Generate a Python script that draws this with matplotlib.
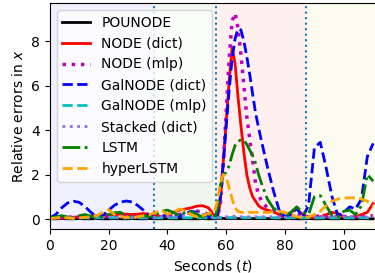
import matplotlib
matplotlib.use('Agg')
import matplotlib.pyplot as plt

# sample times (seconds)
t = [0, 2, 4, 6, 8, 10, 12, 14, 16, 18, 20, 22, 24, 26, 28, 30, 32, 34, 36, 38,
     40, 42, 44, 46, 48, 50, 52, 54, 56,
     57, 58, 59, 60, 61, 62, 63, 64, 65, 66, 67, 68, 69, 70, 71, 72,
     74, 76, 78, 80, 82, 84, 86, 88, 90, 92, 94, 96, 98, 100, 102, 104, 106, 108, 110]

pounode = [0.01, 0.01, 0.02, 0.01, 0.01, 0.02, 0.01, 0.01, 0.02, 0.01, 0.01, 0.02, 0.01, 0.01, 0.02, 0.01,
           0.01, 0.02, 0.01, 0.01, 0.02, 0.01, 0.01, 0.02, 0.01, 0.01, 0.02, 0.01, 0.01,
           0.02, 0.03, 0.03, 0.02, 0.02, 0.03, 0.03, 0.02, 0.02, 0.02, 0.02, 0.02, 0.02, 0.02, 0.02, 0.02,
           0.02, 0.02, 0.01, 0.01, 0.02, 0.01, 0.01, 0.02, 0.01, 0.01, 0.02, 0.01, 0.01, 0.02, 0.01,
           0.01, 0.02, 0.01, 0.01]
node_dict = [0.02, 0.03, 0.05, 0.06, 0.08, 0.1, 0.12, 0.13, 0.15, 0.17, 0.18, 0.2, 0.22, 0.22, 0.2, 0.22,
             0.25, 0.2, 0.15, 0.12, 0.2, 0.3, 0.4, 0.45, 0.5, 0.58, 0.6, 0.5, 0.15,
             0.05, 0.8, 2.6, 4.4, 6.2, 7.7, 7.0, 5.5, 4.2, 3.0, 2.0, 1.4, 1.0, 0.8, 0.6, 0.5,
             0.4, 0.33, 0.2, 0.1, 0.3, 0.45, 0.2, 0.1, 0.05, 0.1, 0.2, 0.3, 0.25, 0.1, 0.05,
             0.1, 0.2, 0.3, 0.7]
node_mlp = [0.03, 0.05, 0.06, 0.08, 0.1, 0.08, 0.06, 0.08, 0.1, 0.12, 0.1, 0.08, 0.1, 0.12, 0.1, 0.08,
            0.1, 0.12, 0.1, 0.08, 0.1, 0.15, 0.2, 0.25, 0.3, 0.35, 0.32, 0.2, 0.08,
            0.05, 0.7, 2.5, 4.8, 7.2, 8.9, 9.25, 8.6, 7.4, 6.0, 4.6, 3.6, 2.6, 1.6, 1.1, 0.8,
            0.5, 0.35, 0.2, 0.15, 0.2, 0.25, 0.15, 0.1, 0.1, 0.15, 0.1, 0.08, 0.1, 0.12, 0.1,
            0.08, 0.1, 0.12, 0.15]
galnode_dict = [0.05, 0.2, 0.5, 0.72, 0.8, 0.75, 0.55, 0.3, 0.08, 0.15, 0.4, 0.62, 0.76, 0.81, 0.77, 0.6,
                0.38, 0.15, 0.05, 0.1, 0.2, 0.15, 0.1, 0.25, 0.35, 0.3, 0.2, 0.1, 0.05,
                0.2, 1.0, 2.5, 4.2, 5.8, 7.2, 8.1, 8.55, 8.5, 8.0, 7.3, 6.5, 5.6, 4.75, 4.1, 3.5,
                2.35, 1.3, 0.4, 0.1, 0.2, 0.48, 0.1, 0.6, 3.2, 3.45, 2.3, 1.0, 0.15, 0.3, 0.55,
                0.45, 0.9, 2.8, 3.4]
galnode_mlp = [0.05, 0.05, 0.06, 0.05, 0.05, 0.06, 0.05, 0.05, 0.06, 0.05, 0.05, 0.06, 0.05, 0.05, 0.06, 0.05,
               0.05, 0.06, 0.05, 0.05, 0.06, 0.05, 0.05, 0.06, 0.05, 0.05, 0.06, 0.05, 0.05,
               0.06, 0.07, 0.07, 0.06, 0.06, 0.07, 0.07, 0.06, 0.06, 0.06, 0.06, 0.06, 0.06, 0.06, 0.06, 0.06,
               0.06, 0.06, 0.05, 0.05, 0.06, 0.05, 0.05, 0.06, 0.05, 0.05, 0.06, 0.05, 0.05, 0.06, 0.05,
               0.05, 0.06, 0.05, 0.05]
stacked_dict = [0.03, 0.05, 0.08, 0.06, 0.04, 0.06, 0.08, 0.06, 0.04, 0.06, 0.1, 0.08, 0.06, 0.05, 0.06, 0.08,
                0.06, 0.05, 0.08, 0.12, 0.1, 0.08, 0.12, 0.18, 0.22, 0.25, 0.2, 0.12, 0.06,
                0.05, 0.06, 0.08, 0.1, 0.1, 0.12, 0.12, 0.1, 0.1, 0.1, 0.1, 0.1, 0.1, 0.1, 0.1, 0.1,
                0.1, 0.1, 0.08, 0.08, 0.1, 0.12, 0.1, 0.08, 0.1, 0.12, 0.1, 0.08, 0.08, 0.1, 0.12,
                0.1, 0.08, 0.1, 0.12]
lstm = [0.05, 0.1, 0.15, 0.1, 0.05, 0.15, 0.2, 0.12, 0.05, 0.1, 0.2, 0.28, 0.3, 0.15, 0.05, 0.1,
        0.15, 0.1, 0.2, 0.35, 0.4, 0.3, 0.15, 0.3, 0.35, 0.2, 0.1, 0.25, 0.05,
        0.4, 1.5, 2.0, 2.1, 2.4, 2.9, 3.3, 3.5, 3.55, 3.55, 3.35, 3.1, 2.85, 2.5, 2.0, 1.6,
        0.9, 0.5, 0.3, 0.15, 0.3, 0.55, 0.3, 0.2, 1.0, 1.05, 0.6, 0.15, 0.1, 0.35, 0.4,
        0.2, 0.6, 2.0, 1.7]
hyperlstm = [0.02, 0.05, 0.08, 0.05, 0.03, 0.05, 0.08, 0.1, 0.15, 0.3, 0.42, 0.2, 0.1, 0.08, 0.05, 0.1,
             0.15, 0.2, 0.3, 0.4, 0.2, 0.3, 0.45, 0.4, 0.2, 0.1, 0.15, 0.25, 0.3,
             0.8, 1.6, 2.0, 1.9, 1.4, 0.9, 0.5, 0.35, 0.3, 0.3, 0.3, 0.3, 0.3, 0.3, 0.3, 0.3,
             0.3, 0.32, 0.35, 0.3, 0.2, 0.1, 0.05, 0.1, 0.2, 0.35, 0.6, 0.8, 0.9, 0.95, 0.95,
             0.95, 0.9, 0.8, 0.6]

# phase boundaries
bounds = [0, 35.5, 56.5, 87, 111]
shade = ['blue', 'green', 'red', 'y']

fig = plt.figure(figsize=(3.75, 2.73), dpi=100)
ax = fig.add_axes([0.133, 0.161, 0.87, 0.828])

for i in range(len(shade)):
    ax.axvspan(bounds[i], bounds[i + 1], color=shade[i], alpha=0.06, lw=0)
for b in bounds[1:-1]:
    ax.axvline(b, color='C0', ls=':', lw=1.5)

lw = 2
ax.plot(t, pounode, color='k', ls='-', lw=lw, label='POUNODE')
ax.plot(t, node_dict, color='r', ls='-', lw=lw, label='NODE (dict)')
ax.plot(t, node_mlp, color='m', ls=':', lw=lw + 0.5, label='NODE (mlp)')
ax.plot(t, galnode_dict, color='b', ls='--', lw=lw, label='GalNODE (dict)')
ax.plot(t, galnode_mlp, color='c', ls='--', lw=lw, label='GalNODE (mlp)')
ax.plot(t, stacked_dict, color='mediumpurple', ls=':', lw=lw, label='Stacked (dict)')
ax.plot(t, lstm, color='g', ls='-.', lw=lw, label='LSTM')
ax.plot(t, hyperlstm, color='orange', ls='--', lw=lw, label='hyperLSTM')

ax.set_xlim(0, 111)
ax.set_ylim(-0.45, 9.71)
ax.set_xticks([0, 20, 40, 60, 80, 100])
ax.set_yticks([0, 2, 4, 6, 8])
ax.set_xlabel('Seconds ($t$)')
ax.set_ylabel('Relative errors in $x$')
ax.legend(loc='upper left')

fig.savefig('out.png', dpi=100)
